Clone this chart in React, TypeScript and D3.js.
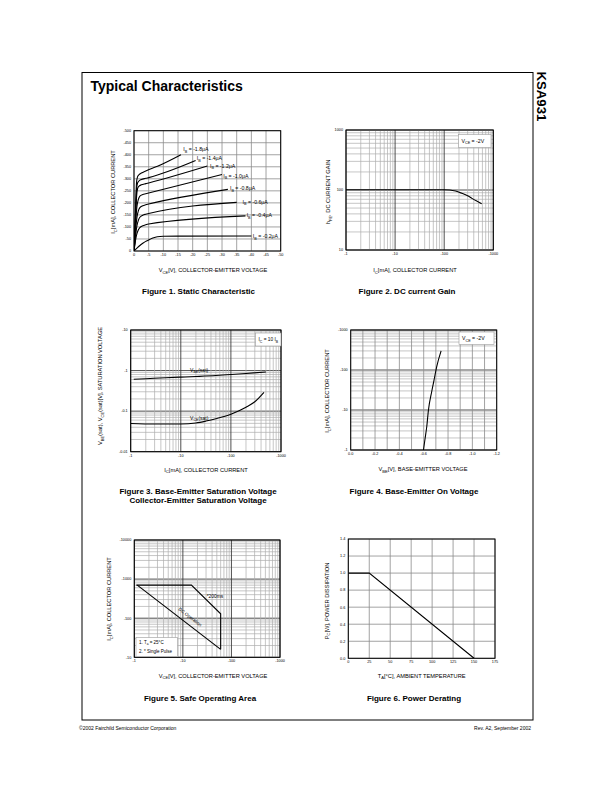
import React from 'react';
import * as d3 from 'd3';

type Pt = [number, number];
const FONT = "'Liberation Sans', Arial, Helvetica, sans-serif";

// ===== Figure 1: Static Characteristic =====
const fig1XTicks = [0, 5, 10, 15, 20, 25, 30, 35, 40, 45, 50];
const fig1XLabels = ['0', '-5', '-10', '-15', '-20', '-25', '-30', '-35', '-40', '-45', '-50'];
const fig1YTicks = [0, 50, 100, 150, 200, 250, 300, 350, 400, 450, 500];
const fig1YLabels = ['0', '-50', '-100', '-150', '-200', '-250', '-300', '-350', '-400', '-450', '-500'];
const ib02: Pt[] = [[0, 0], [1, 12], [2, 23], [3, 32], [4, 40], [5, 46], [6, 52], [7, 56], [8, 59], [10, 61], [15, 62], [40, 62.5]];
const ib04: Pt[] = [[0, 0], [0.3, 25], [0.6, 50], [1, 72], [1.5, 88], [2, 97], [3, 105], [4, 109], [5, 112], [38, 146]];
const ib06: Pt[] = [[0, 0], [0.3, 35], [0.6, 70], [1, 105], [1.5, 128], [2, 140], [3, 149], [4, 153], [5, 156], [35, 202]];
const ib08: Pt[] = [[0, 0], [0.3, 45], [0.6, 95], [1, 140], [1.5, 168], [2, 180], [3, 188], [4, 192], [5, 195], [32, 256]];
const ib10: Pt[] = [[0, 0], [0.3, 60], [0.6, 125], [1, 185], [1.5, 215], [2, 228], [3, 235], [4, 238], [5, 241], [30, 318]];
const ib12: Pt[] = [[0, 0], [0.3, 75], [0.6, 160], [0.9, 230], [1.2, 258], [1.6, 268], [2.5, 275], [4, 280], [5, 283], [25, 353]];
const ib14: Pt[] = [[0, 0], [0.3, 85], [0.6, 185], [0.9, 260], [1.2, 282], [1.6, 290], [2.5, 297], [4, 302], [5, 305], [21, 376]];
const ib18: Pt[] = [[0, 0], [0.3, 95], [0.6, 210], [0.9, 290], [1.2, 308], [1.6, 316], [2.5, 324], [4, 333], [8, 352], [16, 400]];
const fig1Curves = [ib18, ib14, ib12, ib10, ib08, ib06, ib04, ib02];
const fig1Names = ['-1.8', '-1.4', '-1.2', '-1.0', '-0.8', '-0.6', '-0.4', '-0.2'];
// label anchors (data coords) - layout
const fig1LabelPos: Pt[] = [[16.8, 415], [21.4, 378], [25.9, 347], [30.4, 305], [32.7, 253.5], [37.0, 197], [38.4, 141], [40.5, 54]];

// ===== Figure 2: DC current Gain =====
const fig2XTicks = [1, 10, 100, 1000];
const fig2XLabels = ['-1', '-10', '-100', '-1000'];
const fig2YTicks = [10, 100, 1000];
const fig2YLabels = ['10', '100', '1000'];
const hfe: Pt[] = [[1, 101], [3, 101], [10, 101], [30, 101], [100, 101], [130, 100], [170, 96], [229, 88], [300, 80], [363, 73], [450, 66], [580, 59]];

// ===== Figure 3: Saturation voltages =====
const fig3XTicks = [1, 10, 100, 1000];
const fig3XLabels = ['-1', '-10', '-100', '-1000'];
const fig3YTicks = [0.01, 0.1, 1, 10];
const fig3YLabels = ['-0.01', '-0.1', '-1', '-10'];
const vbeSat: Pt[] = [[1.15, 0.61], [2, 0.63], [5, 0.665], [10, 0.69], [20, 0.715], [50, 0.755], [100, 0.8], [200, 0.85], [500, 0.92]];
const vceSat: Pt[] = [[1, 0.0495], [3, 0.048], [10, 0.048], [20, 0.051], [32, 0.057], [50, 0.065], [100, 0.084], [200, 0.125], [300, 0.17], [457, 0.29]];

// ===== Figure 4: Base-Emitter On Voltage =====
const fig4XTicks = [0, 0.2, 0.4, 0.6, 0.8, 1.0, 1.2];
const fig4XLabels = ['0.0', '-0.2', '-0.4', '-0.6', '-0.8', '-1.0', '-1.2'];
const fig4XGrid = [0, 0.1, 0.2, 0.3, 0.4, 0.5, 0.6, 0.7, 0.8, 0.9, 1.0, 1.1, 1.2];
const fig4YTicks = [1, 10, 100, 1000];
const fig4YLabels = ['-1', '-10', '-100', '-1000'];
const vbeOn: Pt[] = [[0.598, 1], [0.612, 2], [0.625, 3.8], [0.639, 10], [0.666, 29], [0.685, 56], [0.707, 121], [0.743, 300]];

// ===== Figure 5: Safe Operating Area =====
const fig5XTicks = [1, 10, 100, 1000];
const fig5XLabels = ['-1', '-10', '-100', '-1000'];
const fig5YTicks = [10, 100, 1000, 10000];
const fig5YLabels = ['-10', '-100', '-1000', '-10000'];
const soa200ms: Pt[] = [[1.1, 700], [15, 700], [60, 130], [60, 16]];
const soaDC: Pt[] = [[1.15, 700], [60, 16]];

// ===== Figure 6: Power Derating =====
const fig6XTicks = [0, 25, 50, 75, 100, 125, 150, 175];
const fig6XLabels = ['0', '25', '50', '75', '100', '125', '150', '175'];
const fig6YTicks = [0, 0.2, 0.4, 0.6, 0.8, 1.0, 1.2, 1.4];
const fig6YLabels = ['0.0', '0.2', '0.4', '0.6', '0.8', '1.0', '1.2', '1.4'];
const pd: Pt[] = [[0, 1.0], [25, 1.0], [150, 0]];

const isDecade = (v: number) => Math.abs(Math.log10(v) - Math.round(Math.log10(v))) < 1e-6;

function Rich({ text, fs }: { text: string; fs: number }) {
  const parts = text.split(/(_\{[^}]*\})/).filter((s) => s.length);
  const sh = fs * 0.3;
  let down = false;
  return (
    <>
      {parts.map((s, i) => {
        if (s.startsWith('_{')) {
          const el = (
            <tspan key={i} fontSize={fs * 0.72} dy={down ? 0 : sh}>
              {s.slice(2, -1)}
            </tspan>
          );
          down = true;
          return el;
        }
        const el = (
          <tspan key={i} dy={down ? -sh : 0} style={{ whiteSpace: 'pre' }}>
            {s}
          </tspan>
        );
        down = false;
        return el;
      })}
    </>
  );
}

const TICK_FS = 3.8;
const TITLE_FS = 5.7;

interface PanelProps {
  xs: any;
  ys: any;
  xGrid: number[];
  yGrid: number[];
  xLog?: boolean;
  yLog?: boolean;
  xTicks: number[];
  xLabels: string[];
  yTicks: number[];
  yLabels: string[];
  xTitle: string;
  xTitleAt: Pt;
  yTitle: string;
  yTitleAt: Pt;
  children?: React.ReactNode;
}

function Panel(p: PanelProps) {
  const xr = p.xs.range();
  const yr = p.ys.range();
  const left = Math.min(xr[0], xr[1]);
  const right = Math.max(xr[0], xr[1]);
  const top = Math.min(yr[0], yr[1]);
  const bottom = Math.max(yr[0], yr[1]);
  const LIN = { stroke: '#8c8c8c', sw: 0.8 };
  const MIN = { stroke: '#adadad', sw: 0.7 };
  const MAJ = { stroke: '#3c3c3c', sw: 0.9 };
  const styleX = (v: number) => (p.xLog ? (isDecade(v) ? MAJ : MIN) : LIN);
  const styleY = (v: number) => (p.yLog ? (isDecade(v) ? MAJ : MIN) : LIN);
  const xsorted = [...p.xGrid].sort((a, b) => (styleX(a) === MAJ ? 1 : 0) - (styleX(b) === MAJ ? 1 : 0));
  const ysorted = [...p.yGrid].sort((a, b) => (styleY(a) === MAJ ? 1 : 0) - (styleY(b) === MAJ ? 1 : 0));
  const clipId = `clip-${Math.round(left)}-${Math.round(top)}`;
  return (
    <g fontFamily={FONT}>
      <defs>
        <clipPath id={clipId}>
          <rect x={left} y={top} width={right - left} height={bottom - top} />
        </clipPath>
      </defs>
      <rect x={left} y={top} width={right - left} height={bottom - top} fill="#fff" />
      {ysorted.map((v, i) => {
        const s = styleY(v);
        return <line key={'gy' + i} x1={left} x2={right} y1={p.ys(v)} y2={p.ys(v)} stroke={s.stroke} strokeWidth={s.sw} />;
      })}
      {xsorted.map((v, i) => {
        const s = styleX(v);
        return <line key={'gx' + i} x1={p.xs(v)} x2={p.xs(v)} y1={top} y2={bottom} stroke={s.stroke} strokeWidth={s.sw} />;
      })}
      <g clipPath={`url(#${clipId})`}>{p.children}</g>
      <rect x={left} y={top} width={right - left} height={bottom - top} fill="none" stroke="#000" strokeWidth={1} />
      {p.xTicks.map((v, i) => (
        <text key={'tx' + i} x={p.xs(v)} y={bottom + 4.8} fontSize={TICK_FS} textAnchor="middle">
          {p.xLabels[i]}
        </text>
      ))}
      {p.yTicks.map((v, i) => (
        <text key={'ty' + i} x={left - 3} y={p.ys(v) + TICK_FS * 0.35} fontSize={TICK_FS} textAnchor="end">
          {p.yLabels[i]}
        </text>
      ))}
      <text x={p.xTitleAt[0]} y={p.xTitleAt[1]} fontSize={TITLE_FS} textAnchor="middle">
        <Rich text={p.xTitle} fs={TITLE_FS} />
      </text>
      <text
        transform={`translate(${p.yTitleAt[0]},${p.yTitleAt[1]}) rotate(-90)`}
        x={0}
        y={TITLE_FS * 0.35}
        fontSize={TITLE_FS}
        textAnchor="middle"
      >
        <Rich text={p.yTitle} fs={TITLE_FS} />
      </text>
    </g>
  );
}

function Legend({ x, y, w, h, lines, fs }: { x: number; y: number; w: number; h: number; lines: string[]; fs: number }) {
  return (
    <g fontFamily={FONT}>
      <rect x={x} y={y} width={w} height={h} fill="#fff" stroke="#999" strokeWidth={0.6} />
      {lines.map((t, i) => (
        <text key={i} x={x + 3} y={y + (h / lines.length) * (i + 0.5) + fs * 0.35} fontSize={fs}>
          <Rich text={t} fs={fs} />
        </text>
      ))}
    </g>
  );
}

function Caption({ x, y, lines }: { x: number; y: number; lines: string[] }) {
  return (
    <g>
      {lines.map((t, i) => (
        <text key={i} x={x} y={y + i * 9} fontSize={8} fontWeight="bold" textAnchor="middle" fontFamily={FONT}>
          {t}
        </text>
      ))}
    </g>
  );
}

export default function App() {
  const mk = (xs: any, ys: any, curve: any = d3.curveMonotoneX) =>
    d3
      .line<Pt>()
      .x((d) => xs(d[0]))
      .y((d) => ys(d[1]))
      .curve(curve);

  // Fig 1
  const f1x = d3.scaleLinear().domain([0, 50]).range([134, 280.7]);
  const f1y = d3.scaleLinear().domain([0, 500]).range([251, 130.7]);
  const l1 = mk(f1x, f1y);
  // Fig 2
  const f2x = d3.scaleLog().domain([1, 1000]).range([346, 493.3]);
  const f2y = d3.scaleLog().domain([10, 1000]).range([250, 130]);
  const l2 = mk(f2x, f2y);
  // Fig 3
  const f3x = d3.scaleLog().domain([1, 1000]).range([130.7, 281]);
  const f3y = d3.scaleLog().domain([0.01, 10]).range([451.7, 330]);
  const l3 = mk(f3x, f3y);
  // Fig 4
  const f4x = d3.scaleLinear().domain([0, 1.2]).range([350.7, 496.7]);
  const f4y = d3.scaleLog().domain([1, 1000]).range([450, 330]);
  const l4 = mk(f4x, f4y);
  // Fig 5
  const f5x = d3.scaleLog().domain([1, 1000]).range([134.3, 280]);
  const f5y = d3.scaleLog().domain([10, 10000]).range([657.3, 540]);
  const l5 = mk(f5x, f5y, d3.curveLinear);
  // Fig 6
  const f6x = d3.scaleLinear().domain([0, 175]).range([348.3, 495]);
  const f6y = d3.scaleLinear().domain([0, 1.4]).range([658.3, 539]);
  const l6 = mk(f6x, f6y, d3.curveLinear);

  const CURVE = { fill: 'none', stroke: '#000', strokeWidth: 1.1 };

  // DC operation label angle
  const a0 = soaDC[0];
  const a1 = soaDC[1];
  const ang = (Math.atan2(f5y(a1[1]) - f5y(a0[1]), f5x(a1[0]) - f5x(a0[0])) * 180) / Math.PI;

  return (
    <svg width={612} height={792} style={{ position: 'absolute', left: 0, top: 0, background: '#fff' }} fontFamily={FONT}>
      <rect x={0} y={0} width={612} height={792} fill="#fff" />
      {/* page frame */}
      <rect x={82} y={72.5} width={451} height={647.5} fill="none" stroke="#000" strokeWidth={1} />
      <text x={90.5} y={90.5} fontSize={14} fontWeight="bold">
        Typical Characteristics
      </text>
      <text transform="translate(536.5,71.5) rotate(90)" fontSize={13.2} fontWeight="bold">
        KSA931
      </text>

      {/* Figure 1 */}
      <Panel
        xs={f1x}
        ys={f1y}
        xGrid={fig1XTicks}
        yGrid={fig1YTicks}
        xTicks={fig1XTicks}
        xLabels={fig1XLabels}
        yTicks={fig1YTicks}
        yLabels={fig1YLabels}
        xTitle="V_{CE}[V], COLLECTOR-EMITTER VOLTAGE"
        xTitleAt={[213, 272]}
        yTitle="I_{C}[mA], COLLECTOR CURRENT"
        yTitleAt={[113.3, 192]}
      >
        {fig1Curves.map((c, i) => (
          <path key={i} d={l1(c) || ''} {...CURVE} />
        ))}
      </Panel>
      {fig1Names.map((n, i) => (
        <text key={i} x={f1x(fig1LabelPos[i][0])} y={f1y(fig1LabelPos[i][1])} fontSize={5.2}>
          <Rich text={`I_{B} = ${n}μA`} fs={5.2} />
        </text>
      ))}
      <Caption x={198.5} y={294} lines={['Figure 1. Static Characteristic']} />

      {/* Figure 2 */}
      <Panel
        xs={f2x}
        ys={f2y}
        xLog
        yLog
        xGrid={f2x.ticks()}
        yGrid={f2y.ticks()}
        xTicks={fig2XTicks}
        xLabels={fig2XLabels}
        yTicks={fig2YTicks}
        yLabels={fig2YLabels}
        xTitle="I_{C}[mA], COLLECTOR CURRENT"
        xTitleAt={[415, 272]}
        yTitle="h_{FE}, DC CURRENT GAIN"
        yTitleAt={[328.3, 192]}
      >
        <path d={l2(hfe) || ''} {...CURVE} />
      </Panel>
      <Legend x={458.5} y={134.5} w={32.5} h={13} lines={['V_{CE} = -2V']} fs={5.2} />
      <Caption x={407} y={294} lines={['Figure 2. DC current Gain']} />

      {/* Figure 3 */}
      <Panel
        xs={f3x}
        ys={f3y}
        xLog
        yLog
        xGrid={f3x.ticks()}
        yGrid={f3y.ticks()}
        xTicks={fig3XTicks}
        xLabels={fig3XLabels}
        yTicks={fig3YTicks}
        yLabels={fig3YLabels}
        xTitle="I_{C}[mA], COLLECTOR CURRENT"
        xTitleAt={[206, 471.5]}
        yTitle="V_{BE}(sat), V_{CE}(sat)[V], SATURATION VOLTAGE"
        yTitleAt={[100, 386]}
      >
        <path d={l3(vbeSat) || ''} {...CURVE} />
        <path d={l3(vceSat) || ''} {...CURVE} />
      </Panel>
      <text x={f3x(15.3)} y={f3y(0.93)} fontSize={5}>
        <Rich text="V_{BE}(sat)" fs={5} />
      </text>
      <text x={f3x(15.3)} y={f3y(0.061)} fontSize={5}>
        <Rich text="V_{CE}(sat)" fs={5} />
      </text>
      <Legend x={255.5} y={333} w={25.5} h={13} lines={['I_{C} = 10 I_{B}']} fs={4.8} />
      <Caption x={198} y={494} lines={['Figure 3. Base-Emitter Saturation Voltage', 'Collector-Emitter Saturation Voltage']} />

      {/* Figure 4 */}
      <Panel
        xs={f4x}
        ys={f4y}
        yLog
        xGrid={fig4XGrid}
        yGrid={f4y.ticks()}
        xTicks={fig4XTicks}
        xLabels={fig4XLabels}
        yTicks={fig4YTicks}
        yLabels={fig4YLabels}
        xTitle="V_{BE}[V], BASE-EMITTER VOLTAGE"
        xTitleAt={[423, 471]}
        yTitle="I_{C}[mA], COLLECTOR CURRENT"
        yTitleAt={[327, 391]}
      >
        <path d={l4(vbeOn) || ''} {...CURVE} />
      </Panel>
      <Legend x={459} y={332} w={35} h={12.5} lines={['V_{CE} = -2V']} fs={5.2} />
      <Caption x={414} y={494} lines={['Figure 4. Base-Emitter On Voltage']} />

      {/* Figure 5 */}
      <Panel
        xs={f5x}
        ys={f5y}
        xLog
        yLog
        xGrid={f5x.ticks()}
        yGrid={f5y.ticks()}
        xTicks={fig5XTicks}
        xLabels={fig5XLabels}
        yTicks={fig5YTicks}
        yLabels={fig5YLabels}
        xTitle="V_{CE}[V], COLLECTOR-EMITTER VOLTAGE"
        xTitleAt={[213, 677.5]}
        yTitle="I_{C}[mA], COLLECTOR CURRENT"
        yTitleAt={[109, 599]}
      >
        <path d={l5(soa200ms) || ''} {...CURVE} />
        <path d={l5(soaDC) || ''} {...CURVE} />
      </Panel>
      <text x={f5x(30.9)} y={f5y(331)} fontSize={4.9}>
        *200ms
      </text>
      <text
        transform={`translate(${f5x(13.5)},${f5y(100)}) rotate(${ang})`}
        fontSize={4.6}
        textAnchor="middle"
      >
        DC Operation
      </text>
      <Legend x={136} y={637.5} w={41.5} h={19} lines={['1. T_{a} = 25°C', '2. * Single Pulse']} fs={4.5} />
      <Caption x={200} y={701} lines={['Figure 5. Safe Operating Area']} />

      {/* Figure 6 */}
      <Panel
        xs={f6x}
        ys={f6y}
        xGrid={fig6XTicks}
        yGrid={fig6YTicks}
        xTicks={fig6XTicks}
        xLabels={fig6XLabels}
        yTicks={fig6YTicks}
        yLabels={fig6YLabels}
        xTitle="T_{A}[°C], AMBIENT TEMPERATURE"
        xTitleAt={[421.7, 677.5]}
        yTitle="P_{C}[W], POWER DISSIPATION"
        yTitleAt={[326.5, 601]}
      >
        <path d={l6(pd) || ''} {...CURVE} />
      </Panel>
      <Caption x={414} y={701} lines={['Figure 6. Power Derating']} />

      {/* footer */}
      <text x={79} y={730} fontSize={5}>
        ©2002 Fairchild Semiconductor Corporation
      </text>
      <text x={531} y={730} fontSize={5} textAnchor="end">
        Rev. A2, September 2002
      </text>
    </svg>
  );
}
